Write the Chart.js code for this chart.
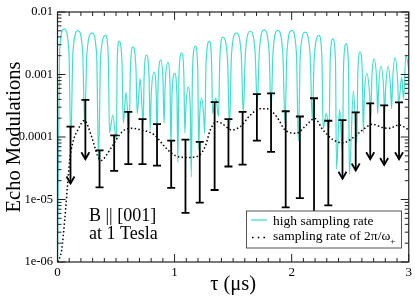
<!DOCTYPE html>
<html><head><meta charset="utf-8">
<script src="https://cdn.jsdelivr.net/npm/chart.js@4/dist/chart.umd.min.js"></script>
<style>html,body{margin:0;padding:0;background:#fff}#wrap{width:415px;height:297px;position:relative}</style>
</head><body><div id="wrap"><canvas id="c" width="415" height="297"></canvas></div>
<script>
// high sampling rate curve (tau in microseconds, modulation)
const hiT = [0.001,0.018,0.057,0.097,0.1135,0.132,0.175,0.215,0.232,0.251,0.294,0.334,0.351,0.368,0.410,0.434,0.444,0.472,0.503,0.510,0.526,0.551,0.562,0.585,0.613,0.6225,0.6445,0.670,0.681,0.706,0.732,0.740,0.760,0.782,0.791,0.801,0.825,0.843,0.850,0.860,0.882,0.901,0.910,0.920,0.9435,0.961,0.969,0.978,1.000,1.020,1.028,1.0375,1.0595,1.079,1.0875,1.096,1.115,1.134,1.1425,1.1535,1.178,1.1975,1.206,1.214,1.2315,1.249,1.257,1.269,1.297,1.316,1.325,1.3525,1.3755,1.3865,1.412,1.452,1.469,1.486,1.528,1.569,1.587,1.605,1.6465,1.688,1.706,1.724,1.765,1.807,1.824,1.841,1.881,1.924,1.943,1.960,2.000,2.040,2.057,2.074,2.115,2.157,2.176,2.193,2.2335,2.258,2.269,2.296,2.320,2.329,2.352,2.374,2.383,2.409,2.434,2.4435,2.4655,2.485,2.493,2.527,2.557,2.565,2.584,2.6035,2.612,2.621,2.643,2.666,2.6755,2.684,2.705,2.726,2.735,2.743,2.762,2.785,2.794,2.803,2.824,2.845,2.853,2.863,2.883,2.904,2.913,2.940,2.955,2.976,3.0];
const hiV = [8.05e-7,2.46e-3,5.37e-3,2.43e-3,8.05e-5,2.29e-3,5.05e-3,2.29e-3,1.66e-4,2.13e-3,4.65e-3,2.13e-3,4.22e-5,1.91e-3,4.22e-3,1.91e-3,1.155e-4,2.23e-4,8.98e-5,1.56e-3,3.43e-3,1.56e-3,1.66e-4,5.18e-4,1.155e-4,1.25e-3,2.77e-3,1.25e-3,2.37e-4,8.57e-4,1.66e-4,9.31e-4,2.05e-3,9.31e-4,1.29e-4,4.92e-4,1.09e-3,4.92e-4,1.04e-4,7.78e-4,1.71e-3,7.78e-4,1.66e-4,7.05e-4,1.56e-3,7.05e-4,7.23e-5,4.70e-4,1.04e-3,4.70e-4,3.93e-5,1.01e-3,2.23e-3,1.01e-3,1.155e-4,2.87e-4,6.33e-4,2.87e-4,2.29e-5,1.29e-3,2.84e-3,1.29e-3,6.26e-5,2.13e-4,4.22e-4,2.13e-4,1.155e-4,1.56e-3,3.43e-3,1.56e-3,2.37e-4,4.22e-4,2.13e-4,1.80e-3,3.97e-3,1.80e-3,1.29e-4,2.11e-3,4.65e-3,2.11e-3,2.37e-4,2.23e-3,4.92e-3,2.23e-3,3.16e-4,2.35e-3,5.18e-3,2.35e-3,2.64e-4,2.31e-3,5.10e-3,2.31e-3,1.66e-4,2.31e-3,5.10e-3,2.31e-3,8.66e-5,2.15e-3,4.75e-3,2.15e-3,1.84e-4,1.91e-3,4.22e-3,1.91e-3,1.38e-4,2.37e-4,1.38e-4,1.70e-3,3.74e-3,1.70e-3,3.05e-5,2.74e-4,5.62e-5,1.42e-3,3.13e-3,1.42e-3,2.55e-5,5.48e-4,8.05e-5,1.05e-3,2.31e-3,1.05e-3,1.155e-4,4.65e-4,1.03e-3,4.65e-4,1.98e-4,7.97e-4,1.76e-3,7.97e-4,2.37e-4,6.11e-4,1.35e-3,6.11e-4,2.37e-4,6.11e-4,1.35e-3,6.11e-4,2.84e-4,8.45e-4,1.86e-3,8.45e-4,3.40e-4,8.98e-4,4.07e-4,2.05e-3,1.20e-3];

// sampling rate of 2pi/omega+ curve
const lowT = [0.003,0.035,0.063,0.088,0.105,0.130,0.173,0.231,0.289,0.342,0.374,0.416,0.469,0.556,0.633,0.712,0.825,0.924,1.009,1.107,1.192,1.263,1.305,1.361,1.403,1.488,1.562,1.646,1.731,1.788,1.873,1.943,2.042,2.127,2.197,2.267,2.352,2.437,2.521,2.606,2.691,2.775,2.832,2.917,3.0];
const lowV = [1.0e-6,1.54e-6,5.05e-6,1.91e-5,4.37e-5,8.06e-5,1.29e-4,1.84e-4,1.04e-4,5.05e-5,4.22e-5,5.05e-5,7.23e-5,1.23e-4,1.38e-4,1.30e-4,1.09e-4,6.73e-5,4.99e-5,4.70e-5,4.87e-5,7.16e-5,1.30e-4,1.76e-4,1.65e-4,1.30e-4,1.47e-4,2.23e-4,2.84e-4,2.84e-4,2.10e-4,1.30e-4,1.15e-4,1.56e-4,1.98e-4,1.30e-4,9.08e-5,8.06e-5,9.65e-5,1.30e-4,1.60e-4,1.42e-4,1.38e-4,1.56e-4,1.30e-4];

// error bars: position, upper end, lower end, whether lower end is an upper-limit arrow
const barT = [0.111,0.238,0.359,0.484,0.605,0.726,0.850,0.971,1.093,1.215,1.342,1.460,1.581,1.703,1.824,1.949,2.070,2.191,2.313,2.434,2.547,2.671,2.790,2.917];
const barHi = [1.47e-4,3.93e-4,6.1e-5,1.06e-4,2.52e-4,1.93e-4,1.61e-4,8.75e-5,9.08e-5,8.36e-5,3.61e-4,1.93e-4,2.52e-4,4.87e-4,4.99e-4,2.58e-4,2.13e-4,4.17e-4,1.82e-4,1.86e-4,2.48e-4,3.46e-4,3.2e-4,3.59e-4];
const barLo = [1.8e-5,4.4e-5,1.56e-5,2.87e-5,3.69e-5,3.69e-5,3.48e-5,1.54e-5,6.1e-6,8.9e-6,1.42e-5,3.37e-5,3.61e-5,8.75e-5,5.77e-5,7.5e-6,1.05e-5,2.0e-6,8.06e-6,2.15e-5,2.91e-5,4.4e-5,3.56e-5,4.4e-5];
const barArrow = [1,1,0,0,0,0,0,0,0,0,0,0,0,0,0,0,0,0,0,1,1,1,1,1];

const xTicks = [0,1,2,3];
const xTickLabels = ['0','1','2','3'];
const yTicks = [1e-6,1e-5,1e-4,1e-3,1e-2];
const yTickLabels = ['1e-06','1e-05','0.0001','0.001','0.01'];
const legendLabels = ['high sampling rate','sampling rate of 2\u03C0/\u03C9'];
const legendSub = '+';
const xTitle = '\u03C4 (\u03BCs)';
const yTitle = 'Echo Modulations';
const noteLines = ['B || [001]','at 1 Tesla'];

const CYAN = '#40E0D0';
const SERIF = '"Liberation Serif","Times New Roman",serif';

const deco = {
  id: 'deco',
  afterDatasetsDraw(chart) {
    const {ctx, chartArea: a, scales: {x, y}} = chart;
    ctx.save();
    ctx.beginPath(); ctx.rect(a.left, a.top, a.right - a.left, a.bottom - a.top); ctx.clip();
    ctx.strokeStyle = '#000'; ctx.lineWidth = 1.8; ctx.lineCap = 'butt';
    barT.forEach((t, i) => {
      const px = x.getPixelForValue(t);
      const top = y.getPixelForValue(barHi[i]);
      const bot = y.getPixelForValue(barLo[i]);
      ctx.beginPath(); ctx.moveTo(px, top); ctx.lineTo(px, bot); ctx.stroke();
      ctx.beginPath(); ctx.moveTo(px - 4, top); ctx.lineTo(px + 4, top); ctx.stroke();
      if (barArrow[i]) {
        ctx.beginPath(); ctx.moveTo(px - 4, bot - 7); ctx.lineTo(px, bot); ctx.lineTo(px + 4, bot - 7); ctx.stroke();
      } else {
        ctx.beginPath(); ctx.moveTo(px - 4, bot); ctx.lineTo(px + 4, bot); ctx.stroke();
      }
    });
    ctx.restore();
  },
  afterDraw(chart) {
    const {ctx, chartArea: a, scales: {x, y}} = chart;
    ctx.save();
    // frame
    ctx.strokeStyle = '#222'; ctx.lineWidth = 1.2;
    ctx.strokeRect(a.left, a.top, a.right - a.left, a.bottom - a.top);
    ctx.lineWidth = 1;
    ctx.beginPath();
    for (let k = 0; k <= 30; k++) {
      const px = x.getPixelForValue(k / 10);
      const L = k % 10 === 0 ? 8 : 4;
      ctx.moveTo(px, a.bottom); ctx.lineTo(px, a.bottom - L);
      ctx.moveTo(px, a.top); ctx.lineTo(px, a.top + L);
    }
    for (let d = -6; d <= -2; d++) {
      for (let m = 1; m < 10; m++) {
        if (d === -2 && m > 1) break;
        const py = y.getPixelForValue(m * Math.pow(10, d));
        const L = m === 1 ? 8 : 4;
        ctx.moveTo(a.left, py); ctx.lineTo(a.left + L, py);
        ctx.moveTo(a.right, py); ctx.lineTo(a.right - L, py);
      }
    }
    ctx.stroke();
    // legend
    const lx = 246.5, ly = 211, lw = 155, lh = 37;
    ctx.fillStyle = '#fff'; ctx.fillRect(lx, ly, lw, lh);
    ctx.strokeStyle = '#555'; ctx.lineWidth = 1; ctx.strokeRect(lx, ly, lw, lh);
    ctx.strokeStyle = CYAN; ctx.lineWidth = 1.3;
    ctx.beginPath(); ctx.moveTo(251, 220); ctx.lineTo(267, 220); ctx.stroke();
    ctx.strokeStyle = '#000'; ctx.lineWidth = 1.6; ctx.setLineDash([1.6, 4.1]);
    ctx.beginPath(); ctx.moveTo(252, 237.5); ctx.lineTo(267, 237.5); ctx.stroke();
    ctx.setLineDash([]);
    ctx.fillStyle = '#000'; ctx.textAlign = 'left'; ctx.textBaseline = 'alphabetic';
    ctx.font = '13.5px ' + SERIF;
    ctx.fillText(legendLabels[0], 273, 224.5);
    ctx.fillText(legendLabels[1], 273, 239.5);
    const w2 = ctx.measureText(legendLabels[1]).width;
    ctx.font = '9px ' + SERIF;
    ctx.fillText(legendSub, 273 + w2, 243.5);
    // annotation
    ctx.font = '18px ' + SERIF;
    ctx.fillText(noteLines[0], 89, 220.5);
    ctx.fillText(noteLines[1], 89, 238.5);
    // axis titles
    ctx.textAlign = 'center';
    ctx.font = '20.5px ' + SERIF;
    ctx.fillText(xTitle, (a.left + a.right) / 2, 289.5);
    ctx.save();
    ctx.translate(20, (a.top + a.bottom) / 2);
    ctx.rotate(-Math.PI / 2);
    ctx.fillText(yTitle, 0, 0);
    ctx.restore();
    ctx.restore();
  }
};

new Chart(document.getElementById('c'), {
  type: 'line',
  data: {
    datasets: [
      {
        label: legendLabels[0],
        data: hiT.map((t, i) => ({x: t, y: hiV[i]})),
        borderColor: CYAN, borderWidth: 1.2, pointRadius: 0,
        cubicInterpolationMode: 'monotone', order: 2
      },
      {
        label: legendLabels[1],
        data: lowT.map((t, i) => ({x: t, y: lowV[i]})),
        borderColor: '#000', borderWidth: 1.5, borderDash: [1.5, 2.3], pointRadius: 0,
        cubicInterpolationMode: 'monotone', order: 1
      }
    ]
  },
  options: {
    responsive: false, animation: false, devicePixelRatio: 1,
    layout: {padding: {left: 0, right: 3.3, top: 6, bottom: 0}},
    plugins: {legend: {display: false}, tooltip: {enabled: false}},
    scales: {
      x: {
        type: 'linear', min: 0, max: 3,
        afterBuildTicks: s => { s.ticks = xTicks.map(v => ({value: v})); },
        afterFit: s => { s.height = 35; },
        ticks: {callback: (v, i) => xTickLabels[i], color: '#000', font: {family: SERIF, size: 13}, padding: 3, maxRotation: 0, autoSkip: false},
        grid: {display: false, drawTicks: false}, border: {display: false}
      },
      y: {
        type: 'logarithmic', min: 1e-6, max: 1e-2,
        afterBuildTicks: s => { s.ticks = yTicks.map(v => ({value: v})); },
        afterFit: s => { s.width = 57.5; },
        ticks: {callback: (v, i) => yTickLabels[i], color: '#000', font: {family: SERIF, size: 12.5}, padding: 4.5, autoSkip: false},
        grid: {display: false, drawTicks: false}, border: {display: false}
      }
    }
  },
  plugins: [deco]
});
</script>
</body></html>
